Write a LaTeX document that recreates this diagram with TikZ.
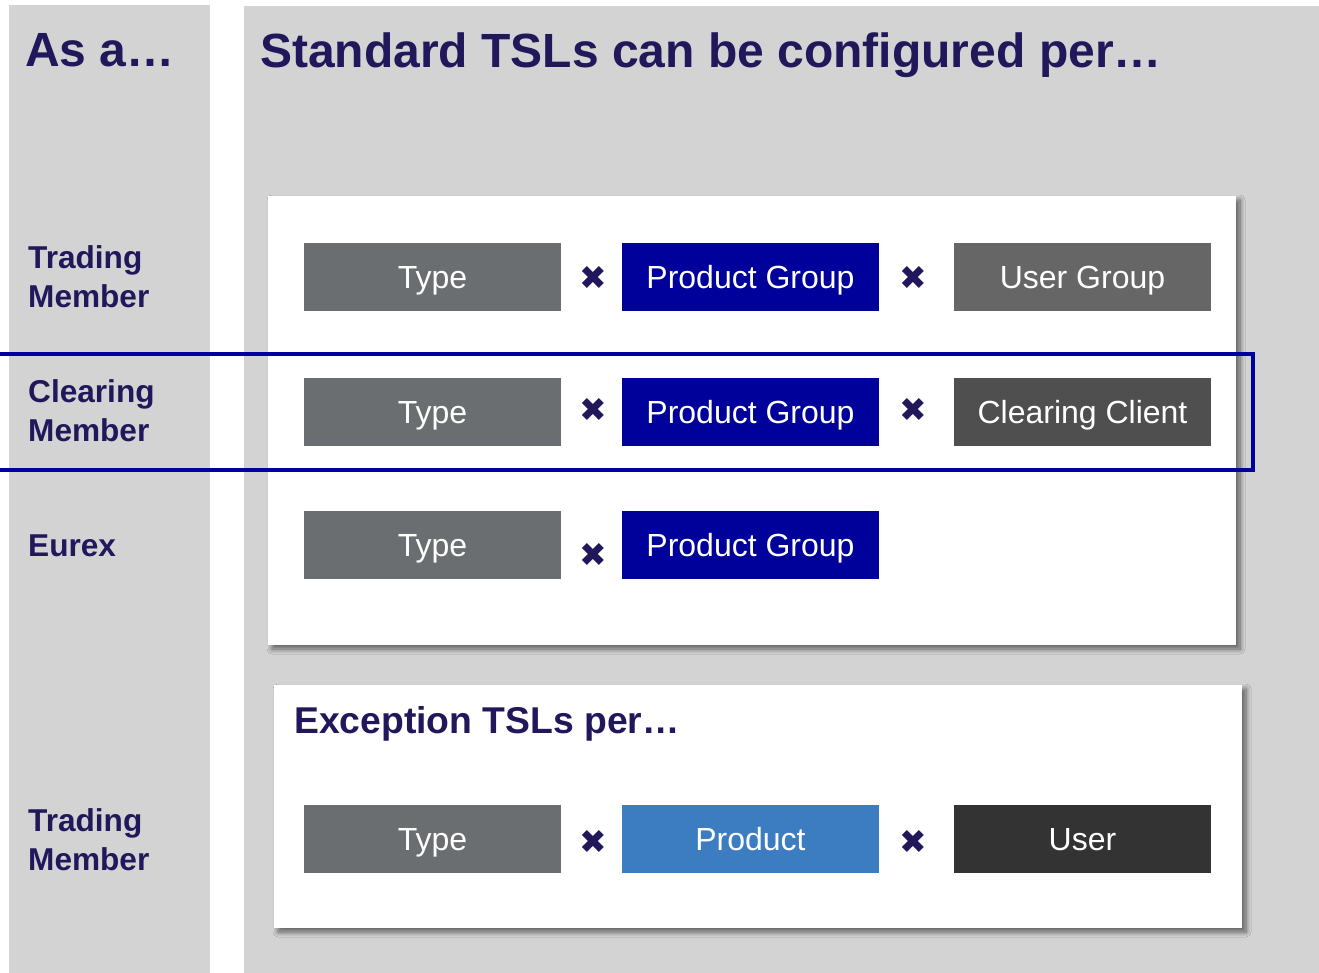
\documentclass[tikz,border=0pt]{standalone}
\usepackage{fontspec}
\setmainfont{Liberation Sans}
\newfontfamily\symfont{DejaVu Sans}
\usetikzlibrary{shadows.blur}
\definecolor{panelgray}{RGB}{211,211,211}
\definecolor{navy}{RGB}{32,24,90}
\definecolor{typegray}{RGB}{106,110,113}
\definecolor{pgblue}{RGB}{0,0,155}
\definecolor{ugray}{RGB}{102,102,102}
\definecolor{ccgray}{RGB}{79,79,79}
\definecolor{prodblue}{RGB}{59,125,192}
\definecolor{userdark}{RGB}{51,51,51}
\definecolor{frameblue}{RGB}{0,0,160}
\tikzset{
  panel/.style={fill=panelgray, draw=none},
  card/.style={fill=white, draw=none, blur shadow={shadow xshift=4pt, shadow yshift=-4pt, shadow blur radius=5pt, shadow blur steps=10, shadow opacity=55}},
  tbox/.style={draw=none, minimum width=257pt, minimum height=68pt, inner sep=0pt, text height=23pt, text depth=0pt, text=white, font=\fontsize{32}{36}\selectfont},
  times/.style={text=navy, inner sep=0pt, font=\symfont\fontsize{33}{38}\selectfont},
  head/.style={text=navy, inner sep=0pt, anchor=base west, font=\fontsize{48}{56}\selectfont\bfseries},
  sub/.style={text=navy, inner sep=0pt, anchor=base west, font=\fontsize{37.3}{44}\selectfont\bfseries},
  role/.style={text=navy, inner sep=0pt, anchor=south west, align=left, font=\fontsize{31.6}{38.5}\selectfont\bfseries},
}
\begin{document}
\begin{tikzpicture}[x=1pt,y=-1pt]
\useasboundingbox (0,0) rectangle (1319,973);
\fill[white] (0,0) rectangle (1319,973);
% panels
\fill[panel] (9,5) rectangle (210,973);
\fill[panel] (244,6) rectangle (1319,973);
% cards
\path[card] (268,196) rectangle (1236,645);
\path[card] (274,685) rectangle (1242,928);
% headings
\node[head] (asa) at (25,67) {As a…};
\node[head] (std) at (260,68) {Standard TSLs can be configured per…};
\node[sub] (exc) at (294,733) {Exception TSLs per…};
% role labels
\node[role] (tm1) at (28,308) {Trading\\Member};
\node[role] (cm) at (28,442) {Clearing\\Member};
\node[role] (eu) at (28,557) {Eurex};
\node[role] (tm2) at (28,871) {Trading\\Member};
% row 1
\node[tbox, fill=typegray] (t1) at (432.5,277) {Type};
\node[tbox, fill=pgblue] (p1) at (750.5,277) {Product Group};
\node[tbox, fill=ugray] (u1) at (1082.5,277) {User Group};
\node[times] (x11) at (593,278) {✖};
\node[times] (x12) at (913,278) {✖};
% row 2
\node[tbox, fill=typegray] (t2) at (432.5,411.5) {Type};
\node[tbox, fill=pgblue] (p2) at (750.5,411.5) {Product Group};
\node[tbox, fill=ccgray] (c2) at (1082.5,411.5) {Clearing Client};
\node[times] (x21) at (593,410) {✖};
\node[times] (x22) at (913,410) {✖};
% row 3
\node[tbox, fill=typegray] (t3) at (432.5,545) {Type};
\node[tbox, fill=pgblue] (p3) at (750.5,545) {Product Group};
\node[times] (x31) at (593,555) {✖};
% row 4
\node[tbox, fill=typegray] (t4) at (432.5,839) {Type};
\node[tbox, fill=prodblue] (p4) at (750.5,839) {Product};
\node[tbox, fill=userdark] (u4) at (1082.5,839) {User};
\node[times] (x41) at (593,842) {✖};
\node[times] (x42) at (913,842) {✖};
% highlight frame
\draw[frameblue, line width=3.5pt] (-2,354) rectangle (1253,470);
\end{tikzpicture}
\end{document}
